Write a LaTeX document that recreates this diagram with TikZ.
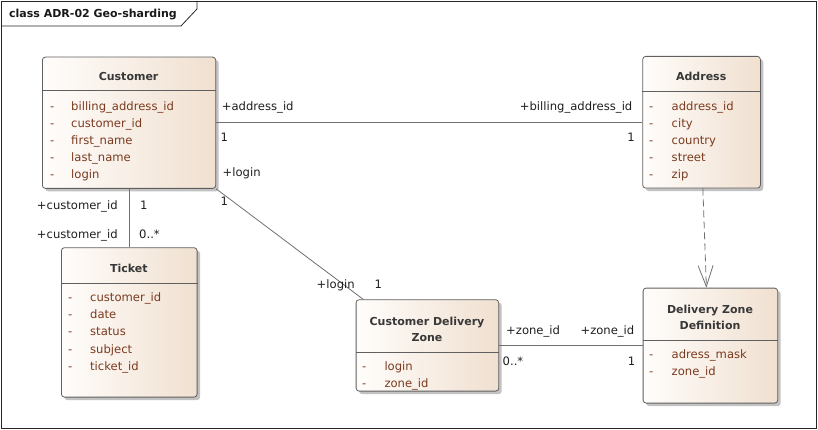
\documentclass[tikz,border=0pt]{standalone}
\usepackage{fontspec}
\setmainfont{DejaVu Sans}
\usetikzlibrary{shadows,calc,arrows.meta}
\definecolor{boxl}{HTML}{FFFDFB}
\definecolor{boxr}{HTML}{F0E0D0}
\definecolor{bord}{HTML}{606060}
\definecolor{ttl}{HTML}{383838}
\definecolor{attrc}{HTML}{7A3A1E}
\definecolor{lnc}{HTML}{707070}
\definecolor{lblc}{HTML}{1E1E1E}
\begin{document}
\begin{tikzpicture}[x=1pt,y=-1pt,
  font=\fontsize{11.6}{13}\selectfont,
  cls/.style={draw=bord, line width=0.8pt, rounded corners=3pt, left color=boxl, right color=boxr,
     anchor=north west, inner sep=0pt,
     drop shadow={shadow xshift=3pt, shadow yshift=-3pt, fill=black!40, opacity=0.6}},
  cname/.style={font=\bfseries\fontsize{11}{16}\selectfont, text=ttl, align=center, inner sep=0pt},
  attr/.style={text=attrc, anchor=west, inner sep=0pt, text height=8pt, text depth=2.5pt},
  lbl/.style={text=lblc, anchor=west, inner sep=0pt, text height=8pt, text depth=2.5pt},
  lblr/.style={lbl, anchor=east},
  sepline/.style={draw=bord, line width=0.8pt},
  conn/.style={draw=lnc, line width=0.8pt},
  dep/.style={draw=lnc, line width=0.8pt, dash pattern=on 7pt off 4pt, -{Straight Barb[length=21pt,width=15pt]}}
]
\useasboundingbox (0,0) rectangle (818,430);
% frame
\node[draw=black!85, line width=0.8pt, anchor=north west, minimum width=815pt, minimum height=427pt, inner sep=0pt] (frame) at (1,1) {};
\draw[black!85, line width=0.8pt] (1,26) -- (181,26) -- (197,9) -- (197,1);
\node[font=\bfseries\fontsize{11}{13}\selectfont, anchor=west, inner sep=0pt, text=black!90] (ftitle) at (9,14.5) {class ADR-02 Geo-sharding};

% Customer
\node[cls, minimum width=173.3pt, minimum height=131.3pt] (cust) at (42,56.7) {};
\draw[sepline] (cust.west |- 0,90.7) -- (cust.east |- 0,90.7);
\node[cname] (custT) at (128.6,76.5) {Customer};
\foreach \t [count=\i from 0] in {billing\_address\_id, customer\_id, first\_name, last\_name, login}{
  \node[attr] (custd\i) at (50,107.5+17*\i) {-};
  \node[attr] (custa\i) at (71,107.5+17*\i) {\t};
}

% Address
\node[cls, minimum width=117.7pt, minimum height=131.7pt] (addr) at (642.3,56) {};
\draw[sepline] (addr.west |- 0,91.7) -- (addr.east |- 0,91.7);
\node[cname] (addrT) at (701.2,76.5) {Address};
\foreach \t [count=\i from 0] in {address\_id, city, country, street, zip}{
  \node[attr] (addrd\i) at (649,107.7+17*\i) {-};
  \node[attr] (addra\i) at (671.5,107.7+17*\i) {\t};
}

% Ticket
\node[cls, minimum width=135.7pt, minimum height=149.4pt] (tick) at (61,247.3) {};
\draw[sepline] (tick.west |- 0,283.3) -- (tick.east |- 0,283.3);
\node[cname] (tickT) at (128.9,268.5) {Ticket};
\foreach \t [count=\i from 0] in {customer\_id, date, status, subject, ticket\_id}{
  \node[attr] (tickd\i) at (68,298.7+17.2*\i) {-};
  \node[attr] (ticka\i) at (90,298.7+17.2*\i) {\t};
}

% Customer Delivery Zone
\node[cls, minimum width=142.6pt, minimum height=91.4pt] (cdz) at (355.7,299.3) {};
\draw[sepline] (cdz.west |- 0,352) -- (cdz.east |- 0,352);
\node[cname] (cdzT) at (427,329.5) {Customer Delivery\\Zone};
\foreach \t [count=\i from 0] in {login, zone\_id}{
  \node[attr] (cdzd\i) at (362,368+16.7*\i) {-};
  \node[attr] (cdza\i) at (384.3,368+16.7*\i) {\t};
}

% Delivery Zone Definition
\node[cls, minimum width=134.6pt, minimum height=115pt] (dzd) at (642.7,287.7) {};
\draw[sepline] (dzd.west |- 0,340) -- (dzd.east |- 0,340);
\node[cname] (dzdT) at (710,317) {Delivery Zone\\Definition};
\foreach \t [count=\i from 0] in {adress\_mask, zone\_id}{
  \node[attr] (dzdd\i) at (649,355.6+16.7*\i) {-};
  \node[attr] (dzda\i) at (671.5,355.6+16.7*\i) {\t};
}

% connectors
\draw[conn] (cust.east) -- (addr.west |- cust.east);
\node[lbl] (l1) at (221.7,108) {+address\_id};
\node[lbl] (l2) at (220.5,138.5) {1};
\node[lblr] (l3) at (632.5,108) {+billing\_address\_id};
\node[lblr] (l4) at (635,138.5) {1};

\draw[conn] (cust.south) -- (cust.south |- tick.north);
\node[lbl] (l5) at (36.7,207) {+customer\_id};
\node[lbl] (l6) at (140,207) {1};
\node[lbl] (l7) at (36.7,236) {+customer\_id};
\node[lbl] (l8) at (139,236) {0..*};

\draw[conn] (cust.south east) -- ($(cdz.north west)+(7.5,0)$);
\node[lbl] (l9) at (222.5,174) {+login};
\node[lbl] (l10) at (220.5,203) {1};
\node[lbl] (l11) at (316.5,285.5) {+login};
\node[lbl] (l12) at (374.5,285.5) {1};

\draw[conn] (cdz.east) -- (dzd.west |- cdz.east);
\node[lbl] (l13) at (506,332) {+zone\_id};
\node[lbl] (l14) at (502.5,362.5) {0..*};
\node[lblr] (l15) at (634.5,332) {+zone\_id};
\node[lblr] (l16) at (635.5,362.5) {1};

\draw[dep] ($(addr.south)+(1.3,0)$) -- ($(dzd.north)+(-4,0)$);
\end{tikzpicture}
\end{document}
